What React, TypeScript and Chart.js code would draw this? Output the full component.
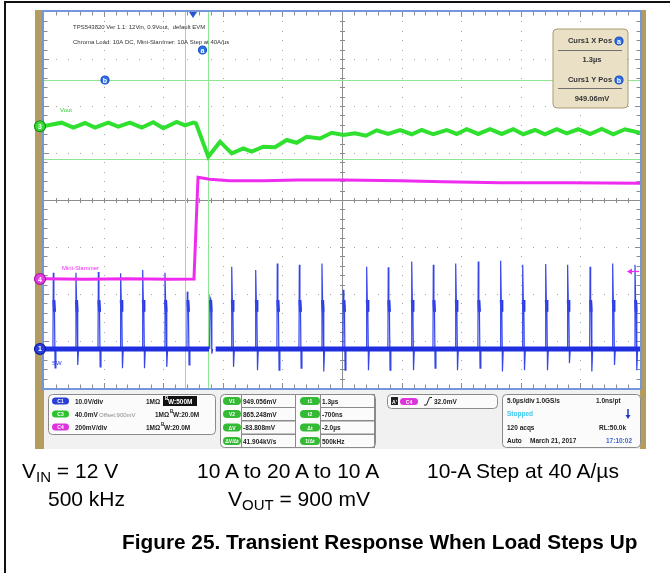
import React, { useEffect, useRef } from "react";
import { Chart, registerables } from "chart.js";

Chart.register(...registerables);

// ---------- axes: 10 div x 5 µs/div, trigger at t = 0 ----------
const timeMin = -12.5;
const timeMax = 37.5;
const voutAxis = [622.3, 1021.2]; // mV  (C3, offset 900 mV)
const slammerAxis = [-463.8, 1136.2]; // mV (C4, 200 mV/div)
const swAxis = [-8.3, 71.7]; // V (C1, 10 V/div)

// ---------- C3 : Vout (µs, mV) ----------
const voutTime = [-12.5, -11.02, -10.04, -9.06, -8.22, -7.11, -6.27, -5.29, -4.3, -3.33, -2.49, -1.37, -0.67, 0.03, 0.25, 1.28, 2.27, 3.25, 4.22, 4.92, 5.9, 6.88, 7.86, 8.7, 9.54, 10.65, 11.64, 12.61, 13.59, 14.5, 15.41, 16.36, 17.37, 18.35, 19.19, 20.16, 21.28, 22.12, 22.96, 23.93, 24.92, 25.9, 26.87, 27.71, 28.69, 29.53, 30.51, 31.35, 32.32, 33.31, 34.29, 35.26, 36.24, 37.5];
const voutMv = [900.3, 903.8, 898.5, 903.4, 898.5, 903.8, 899.5, 903.8, 898.5, 904.2, 897.8, 904.5, 901.0, 903.8, 903.0, 867.7, 883.6, 871.3, 876.6, 873.0, 878.3, 877.7, 885.4, 882.5, 888.9, 887.0, 893.1, 890.7, 892.5, 890.0, 895.7, 891.8, 896.0, 891.5, 896.0, 891.5, 896.0, 891.8, 896.8, 891.8, 896.8, 891.8, 896.8, 891.5, 896.0, 891.5, 896.8, 892.5, 896.8, 891.8, 897.1, 891.5, 896.8, 893.1];

// ---------- C4 : Mini-Slammer (µs, mV) ----------
const slammerTime = [-12.5, -9.0, -5.5, -2.0, 0.08, 0.42, 1.4, 3.1, 5.9, 8.7, 12.6, 17.4, 21.0, 25.8, 31.4, 37.5];
const slammerMv = [1.5, -1.5, 1.5, -1.0, 0, 432.8, 424.3, 418.3, 418.3, 421.3, 421.3, 418.3, 414.0, 409.8, 409.8, 407.2];

// ---------- C1 : SW (µs, V) ----------
const swPulseTime = [-11.72, -9.82, -7.94, -6.07, -4.22, -2.35, -0.48, 1.43, 3.25, 5.26, 7.07, 8.92, 10.82, 12.61, 14.57, 16.38, 18.35, 20.16, 22.04, 23.93, 25.81, 27.66, 29.59, 31.43, 33.31, 35.21, 37.08];
const swPulseTop = [16.2, 16.2, 16.4, 16.1, 16.8, 16.2, 12.2, 10.9, 17.5, 16.8, 18.2, 17.9, 18.2, 12.6, 17.5, 17.4, 18.6, 17.9, 18.2, 18.6, 18.8, 17.9, 18.1, 17.9, 17.5, 18.2, 17.9];
const swPulseBottom = [-4.0, -3.4, -3.8, -4.1, -4.1, -3.8, -3.4, -1.0, -3.8, -4.5, -4.5, -4.1, -4.8, -4.5, -4.5, -4.5, -4.5, -4.1, -4.5, -4.1, -4.8, -4.5, -4.5, -3.0, -4.8, -3.4, -4.5];
const swRingHigh = 10.4;
const swRingLow = 7.9;
const swPulseOffsets = [-0.03, 0, 0.05, 0.1, 0.15, 0.22];
const swBaseSegments = [[-12.5, 1.35], [1.9, 37.5]];

// ---------- cursors / trigger ----------
const cursorTime = [1.3, -0.7]; // a, b (µs)
const cursorLevel = [949.056, 865.248]; // mV on C3
const triggerLevel = 32.0; // mV on C4
const vOffset = 900; // mV

// ---------- readout texts ----------
const chanNames = ["C1", "C3", "C4"];
const chanScale = ["10.0V/div", "40.0mV", "200mV/div"];
const chanBW = ["500M", "20.0M", "20.0M"];
const measLabels1 = ["V1", "V2", "ΔV", "ΔV/Δt"];
const measValues1 = ["949.056mV", "865.248mV", "-83.808mV", "41.904kV/s"];
const measLabels2 = ["t1", "t2", "Δt", "1/Δt"];
const measValues2 = ["1.3µs", "-700ns", "-2.0µs", "500kHz"];

const GREEN = "#2fe02f";
const MAGENTA = "#ee2bee";
const BLUE = "#1f2fe0";
const FONT = '"Liberation Sans", Arial, sans-serif';

function rrect(ctx: CanvasRenderingContext2D, x: number, y: number, w: number, h: number, r: number) {
  ctx.beginPath();
  ctx.moveTo(x + r, y);
  ctx.lineTo(x + w - r, y);
  ctx.quadraticCurveTo(x + w, y, x + w, y + r);
  ctx.lineTo(x + w, y + h - r);
  ctx.quadraticCurveTo(x + w, y + h, x + w - r, y + h);
  ctx.lineTo(x + r, y + h);
  ctx.quadraticCurveTo(x, y + h, x, y + h - r);
  ctx.lineTo(x, y + r);
  ctx.quadraticCurveTo(x, y, x + r, y);
  ctx.closePath();
}

function txt(ctx: CanvasRenderingContext2D, s: string, x: number, y: number, font: string, color: string, align: CanvasTextAlign = "left") {
  ctx.font = font;
  ctx.fillStyle = color;
  ctx.textAlign = align;
  ctx.textBaseline = "alphabetic";
  ctx.fillText(s, x, y);
}

function pill(ctx: CanvasRenderingContext2D, x: number, y: number, w: number, h: number, fill: string, label: string) {
  rrect(ctx, x, y - h / 2, w, h, h / 2);
  ctx.fillStyle = fill;
  ctx.fill();
  txt(ctx, label, x + w / 2, y + 2, `bold 5px ${FONT}`, "#ffffff", "center");
}

function marker(ctx: CanvasRenderingContext2D, x: number, y: number, r: number, fill: string, stroke: string, label: string) {
  ctx.beginPath();
  ctx.arc(x, y, r, 0, Math.PI * 2);
  ctx.fillStyle = fill;
  ctx.fill();
  ctx.lineWidth = 1.2;
  ctx.strokeStyle = stroke;
  ctx.stroke();
  txt(ctx, label, x, y + 2.5, `bold 7px ${FONT}`, "#ffffff", "center");
}

const scopePlugin = {
  id: "scope",
  beforeDraw(chart: any) {
    const { ctx, chartArea: a } = chart;
    ctx.save();
    ctx.fillStyle = "#ffffff";
    ctx.fillRect(0, 0, chart.width, chart.height);
    ctx.fillStyle = "#111111";
    ctx.fillRect(4, 1, chart.width - 4, 2);
    ctx.fillRect(4, 1, 2, chart.height);
    // scope body
    ctx.fillStyle = "#b49c5f";
    ctx.fillRect(35, 10, 9, 439);
    ctx.fillRect(a.right, 10, 6, 439);
    ctx.fillStyle = "#f1f1f1";
    ctx.fillRect(a.left, a.bottom, a.right - a.left, 449 - a.bottom);
    ctx.fillStyle = "#ffffff";
    ctx.fillRect(a.left, a.top, a.right - a.left, a.bottom - a.top);
    ctx.strokeStyle = "#7596d8";
    ctx.lineWidth = 2;
    ctx.strokeRect(a.left - 1, a.top - 1, a.right - a.left + 2, a.bottom - a.top + 2);
    ctx.restore();
  },
  beforeDatasetsDraw(chart: any) {
    const { ctx, chartArea: a, scales } = chart;
    const dx = (a.right - a.left) / 10;
    const dy = (a.bottom - a.top) / 8;
    ctx.save();
    ctx.fillStyle = "#a4a4a4";
    for (let i = 1; i < 10; i++) {
      if (i === 5) continue;
      const x = Math.round(a.left + i * dx);
      for (let k = 1; k < 40; k++) ctx.fillRect(x, Math.round(a.top + (k * dy) / 5), 1, 1);
    }
    for (let j = 1; j < 8; j++) {
      if (j === 4) continue;
      const y = Math.round(a.top + j * dy);
      for (let k = 1; k < 50; k++) ctx.fillRect(Math.round(a.left + (k * dx) / 5), y, 1, 1);
    }
    const cx = Math.round(a.left + 5 * dx) + 0.5;
    const cy = Math.round(a.top + 4 * dy) + 0.5;
    ctx.strokeStyle = "#8c8c8c";
    ctx.lineWidth = 1;
    ctx.beginPath();
    ctx.moveTo(cx, a.top);
    ctx.lineTo(cx, a.bottom);
    ctx.moveTo(a.left, cy);
    ctx.lineTo(a.right, cy);
    for (let k = 1; k < 50; k++) {
      const x = Math.round(a.left + (k * dx) / 5) + 0.5;
      const L = k % 5 === 0 ? 5 : 3.5;
      ctx.moveTo(x, cy - 2.5);
      ctx.lineTo(x, cy + 2.5);
      ctx.moveTo(x, a.top);
      ctx.lineTo(x, a.top + L);
      ctx.moveTo(x, a.bottom);
      ctx.lineTo(x, a.bottom - L);
    }
    for (let k = 1; k < 40; k++) {
      const y = Math.round(a.top + (k * dy) / 5) + 0.5;
      const L = k % 5 === 0 ? 5 : 3.5;
      ctx.moveTo(cx - 2.5, y);
      ctx.lineTo(cx + 2.5, y);
      ctx.moveTo(a.left, y);
      ctx.lineTo(a.left + L, y);
      ctx.moveTo(a.right, y);
      ctx.lineTo(a.right - L, y);
    }
    ctx.stroke();

    // cursors
    ctx.strokeStyle = "#8fe68f";
    ctx.lineWidth = 1;
    ctx.beginPath();
    cursorTime.forEach((t) => {
      const x = Math.round(scales.x.getPixelForValue(t)) + 0.5;
      ctx.moveTo(x, a.top);
      ctx.lineTo(x, a.bottom);
    });
    cursorLevel.forEach((v) => {
      const y = Math.round(scales.yV.getPixelForValue(v)) + 0.5;
      ctx.moveTo(a.left, y);
      ctx.lineTo(a.right, y);
    });
    ctx.stroke();

    // annotations
    txt(ctx, "TPS543820 Ver 1.1: 12Vin, 0.9Vout,  default EVM", 73, 29, `6px ${FONT}`, "#333333");
    txt(ctx, "Chroma Load: 10A DC, Mini-Slammer: 10A Step at 40A/µs", 73, 44, `6px ${FONT}`, "#333333");
    txt(ctx, "Vout", 60, scales.yV.getPixelForValue(vOffset) - 14, `6px ${FONT}`, "#33cc33");
    txt(ctx, "Mini-Slammer", 62, scales.yI.getPixelForValue(0) - 9, `6px ${FONT}`, MAGENTA);
    txt(ctx, "SW", 52, scales.yS.getPixelForValue(0) + 16, `6px ${FONT}`, BLUE);
    ctx.restore();
  },
  afterDatasetsDraw(chart: any) {
    const { ctx, chartArea: a, scales } = chart;
    ctx.save();
    // trigger position marker
    const tx = scales.x.getPixelForValue(0);
    ctx.fillStyle = "#2a56d6";
    ctx.beginPath();
    ctx.moveTo(tx - 4, a.top);
    ctx.lineTo(tx + 4, a.top);
    ctx.lineTo(tx, a.top + 6);
    ctx.closePath();
    ctx.fill();
    // cursor handles
    marker(ctx, scales.x.getPixelForValue(cursorTime[0]) - 6, 50, 4, "#2f6fe6", "#1b4fc0", "a");
    marker(ctx, 105, scales.yV.getPixelForValue(cursorLevel[0]), 4, "#2f6fe6", "#1b4fc0", "b");
    // channel markers
    marker(ctx, 40, scales.yV.getPixelForValue(vOffset), 5.5, "#36d936", "#138f13", "3");
    marker(ctx, 40, scales.yI.getPixelForValue(0), 5.5, "#e33fe3", "#a018a0", "4");
    marker(ctx, 40, scales.yS.getPixelForValue(0), 5.5, "#2a3ed8", "#101a90", "1");
    // trigger level arrow
    const ty = Math.round(scales.yI.getPixelForValue(triggerLevel)) + 0.5;
    ctx.strokeStyle = MAGENTA;
    ctx.fillStyle = MAGENTA;
    ctx.lineWidth = 1.2;
    ctx.beginPath();
    ctx.moveTo(a.right - 1, ty);
    ctx.lineTo(a.right - 9, ty);
    ctx.stroke();
    ctx.beginPath();
    ctx.moveTo(a.right - 13, ty);
    ctx.lineTo(a.right - 8, ty - 3);
    ctx.lineTo(a.right - 8, ty + 3);
    ctx.closePath();
    ctx.fill();

    // cursor readout
    rrect(ctx, 553, 29, 75, 79, 4);
    ctx.fillStyle = "#e9e0c6";
    ctx.fill();
    ctx.strokeStyle = "#a99b74";
    ctx.lineWidth = 1;
    ctx.stroke();
    const bf = `bold 7.5px ${FONT}`;
    txt(ctx, "Curs1 X Pos", 590, 43, bf, "#333333", "center");
    marker(ctx, 619, 41, 4, "#2f6fe6", "#1b4fc0", "a");
    ctx.strokeStyle = "#707070";
    ctx.beginPath();
    ctx.moveTo(558, 50.5);
    ctx.lineTo(622, 50.5);
    ctx.moveTo(558, 88.5);
    ctx.lineTo(622, 88.5);
    ctx.stroke();
    txt(ctx, measValues2[0], 592, 62, bf, "#333333", "center");
    txt(ctx, "Curs1 Y Pos", 590, 82, bf, "#333333", "center");
    marker(ctx, 619, 80, 4, "#2f6fe6", "#1b4fc0", "b");
    txt(ctx, "949.06mV", 592, 101, bf, "#333333", "center");

    // ----- info panel -----
    const pf = `bold 6.5px ${FONT}`;
    ctx.lineWidth = 1;
    // channel box
    rrect(ctx, 48.5, 394.5, 167, 40, 4);
    ctx.fillStyle = "#fbfbfb";
    ctx.fill();
    ctx.strokeStyle = "#8a8a8a";
    ctx.stroke();
    const chanColors = ["#2a3ed8", "#2cc22c", "#dd33dd"];
    const rowsY = [401, 414, 427];
    chanNames.forEach((n, i) => {
      const y = rowsY[i];
      pill(ctx, 52, y, 17, 7, chanColors[i], n);
      txt(ctx, chanScale[i], 75, y + 2.5, pf, "#222222");
    });
    // row C1
    txt(ctx, "1MΩ", 146, 403.5, pf, "#222222");
    ctx.fillStyle = "#111111";
    ctx.fillRect(163, 396, 34, 10);
    txt(ctx, "B", 165, 400, `bold 4.5px ${FONT}`, "#ffffff");
    txt(ctx, "W:" + chanBW[0], 168, 404, pf, "#ffffff");
    // row C3
    txt(ctx, "Offset:900mV", 99, 416.5, `6px ${FONT}`, "#8a8a8a");
    txt(ctx, "1MΩ", 155, 416.5, pf, "#222222");
    txt(ctx, "B", 170, 413, `bold 4.5px ${FONT}`, "#222222");
    txt(ctx, "W:" + chanBW[1], 173, 417, pf, "#222222");
    // row C4
    txt(ctx, "1MΩ", 146, 429.5, pf, "#222222");
    txt(ctx, "B", 161, 426, `bold 4.5px ${FONT}`, "#222222");
    txt(ctx, "W:" + chanBW[2], 164, 430, pf, "#222222");

    // measurements box
    rrect(ctx, 220.5, 394.5, 155, 53, 4);
    ctx.fillStyle = "#fbfbfb";
    ctx.fill();
    ctx.strokeStyle = "#8a8a8a";
    ctx.stroke();
    const mRows = [401, 414, 427.5, 441];
    measLabels1.forEach((l, i) => {
      const y = mRows[i];
      ctx.strokeStyle = "#8a8a8a";
      ctx.strokeRect(241.5, y - 6.5, 54, 13);
      ctx.strokeRect(320.5, y - 6.5, 54, 13);
      pill(ctx, 223, y, 18, 8, "#33bb33", l);
      pill(ctx, 300, y, 20, 8, "#33bb33", measLabels2[i]);
      txt(ctx, measValues1[i], 243, y + 2.5, pf, "#222222");
      txt(ctx, measValues2[i], 322, y + 2.5, pf, "#222222");
    });

    // trigger box
    rrect(ctx, 387.5, 394.5, 110, 14, 4);
    ctx.fillStyle = "#fbfbfb";
    ctx.fill();
    ctx.strokeStyle = "#8a8a8a";
    ctx.stroke();
    ctx.fillStyle = "#222222";
    ctx.fillRect(391, 397, 7, 8);
    txt(ctx, "A'", 394.5, 403.5, `bold 5px ${FONT}`, "#ffffff", "center");
    pill(ctx, 400, 401.5, 18, 7, "#dd33dd", "C4");
    ctx.strokeStyle = "#222222";
    ctx.lineWidth = 1;
    ctx.beginPath();
    ctx.moveTo(424, 405);
    ctx.lineTo(426.5, 405);
    ctx.lineTo(429.5, 397.5);
    ctx.lineTo(432, 397.5);
    ctx.stroke();
    txt(ctx, triggerLevel.toFixed(1) + "mV", 434, 404, pf, "#222222");

    // acquisition box
    rrect(ctx, 502.5, 394.5, 138, 53, 4);
    ctx.fillStyle = "#fbfbfb";
    ctx.fill();
    ctx.strokeStyle = "#8a8a8a";
    ctx.stroke();
    txt(ctx, "5.0µs/div", 507, 403, pf, "#222222");
    txt(ctx, "1.0GS/s", 536, 403, pf, "#222222");
    txt(ctx, "1.0ns/pt", 596, 403, pf, "#222222");
    txt(ctx, "Stopped", 507, 416, pf, "#3cc8f0");
    ctx.strokeStyle = "#2233cc";
    ctx.fillStyle = "#2233cc";
    ctx.lineWidth = 1.5;
    ctx.beginPath();
    ctx.moveTo(628, 409);
    ctx.lineTo(628, 416);
    ctx.stroke();
    ctx.beginPath();
    ctx.moveTo(625.5, 415);
    ctx.lineTo(630.5, 415);
    ctx.lineTo(628, 419);
    ctx.closePath();
    ctx.fill();
    txt(ctx, "120 acqs", 507, 430, pf, "#222222");
    txt(ctx, "RL:50.0k", 599, 430, pf, "#222222");
    txt(ctx, "Auto", 507, 443, pf, "#222222");
    txt(ctx, "March 21, 2017", 530, 443, pf, "#222222");
    txt(ctx, "17:10:02", 606, 443, pf, "#3a66d8");
    ctx.restore();
  },
};

export default function App() {
  const ref = useRef<HTMLCanvasElement>(null);
  useEffect(() => {
    const voutData = voutTime.map((t, i) => ({ x: t, y: voutMv[i] }));
    const slammerData = slammerTime.map((t, i) => ({ x: t, y: slammerMv[i] }));
    const swBaseData: any[] = [];
    swBaseSegments.forEach(([s, e]) => {
      swBaseData.push({ x: s, y: 0 }, { x: e, y: 0 }, { x: e + 0.01, y: null });
    });
    const swPulseData: any[] = [];
    const swRingData: any[] = [];
    swPulseTime.forEach((t, i) => {
      const vals = [0, swPulseTop[i], swRingHigh, swRingLow, swPulseBottom[i], 0];
      swPulseOffsets.forEach((o, k) => swPulseData.push({ x: t + o, y: vals[k] }));
      swPulseData.push({ x: t + 0.25, y: null });
      swRingData.push({ x: t + swPulseOffsets[2], y: swRingHigh }, { x: t + swPulseOffsets[3], y: swRingLow }, { x: t + 0.12, y: null });
    });
    const common = { pointRadius: 0, tension: 0, fill: false, clip: 0, spanGaps: false };
    const chart = new Chart(ref.current as HTMLCanvasElement, {
      type: "line",
      data: {
        datasets: [
          { ...common, label: "Vout", data: voutData, yAxisID: "yV", borderColor: GREEN, borderWidth: 4 },
          { ...common, label: "Mini-Slammer", data: slammerData, yAxisID: "yI", borderColor: MAGENTA, borderWidth: 3 },
          { ...common, label: "SW", data: swBaseData, yAxisID: "yS", borderColor: BLUE, borderWidth: 5 },
          { ...common, label: "SW edges", data: swPulseData, yAxisID: "yS", borderColor: "#3445ea", borderWidth: 1.2 },
          { ...common, label: "SW ring", data: swRingData, yAxisID: "yS", borderColor: BLUE, borderWidth: 3 },
        ] as any,
      },
      options: {
        responsive: false,
        animation: false,
        devicePixelRatio: 1,
        events: [],
        layout: { padding: { left: 44, top: 12, right: 30, bottom: 185 } },
        plugins: { legend: { display: false }, tooltip: { enabled: false }, title: { display: false } },
        scales: {
          x: { type: "linear", min: timeMin, max: timeMax, display: false },
          yV: { type: "linear", min: voutAxis[0], max: voutAxis[1], display: false },
          yI: { type: "linear", min: slammerAxis[0], max: slammerAxis[1], display: false },
          yS: { type: "linear", min: swAxis[0], max: swAxis[1], display: false },
        },
      } as any,
      plugins: [scopePlugin],
    });
    return () => chart.destroy();
  }, []);

  const cap: React.CSSProperties = {
    position: "absolute",
    fontFamily: '"Liberation Sans", Arial, sans-serif',
    fontSize: 21,
    lineHeight: "21px",
    color: "#000",
    whiteSpace: "nowrap",
  };
  const sub: React.CSSProperties = { fontSize: 15, position: "relative", top: 4 };
  return (
    <div style={{ position: "absolute", left: 0, top: 0, width: 670, height: 573, background: "#fff", overflow: "hidden" }}>
      <canvas ref={ref} width={670} height={573} style={{ position: "absolute", left: 0, top: 0, width: 670, height: 573 }} />
      <div style={{ ...cap, left: 22, top: 460 }}>
        V<span style={sub}>IN</span> = 12 V
      </div>
      <div style={{ ...cap, left: 197, top: 460 }}>10 A to 20 A to 10 A</div>
      <div style={{ ...cap, left: 427, top: 460 }}>10-A Step at 40 A/µs</div>
      <div style={{ ...cap, left: 48, top: 488 }}>500 kHz</div>
      <div style={{ ...cap, left: 228, top: 488 }}>
        V<span style={sub}>OUT</span> = 900 mV
      </div>
      <div style={{ ...cap, left: 122, top: 531, fontWeight: "bold", fontSize: 20.8 }}>Figure 25. Transient Response When Load Steps Up</div>
    </div>
  );
}
